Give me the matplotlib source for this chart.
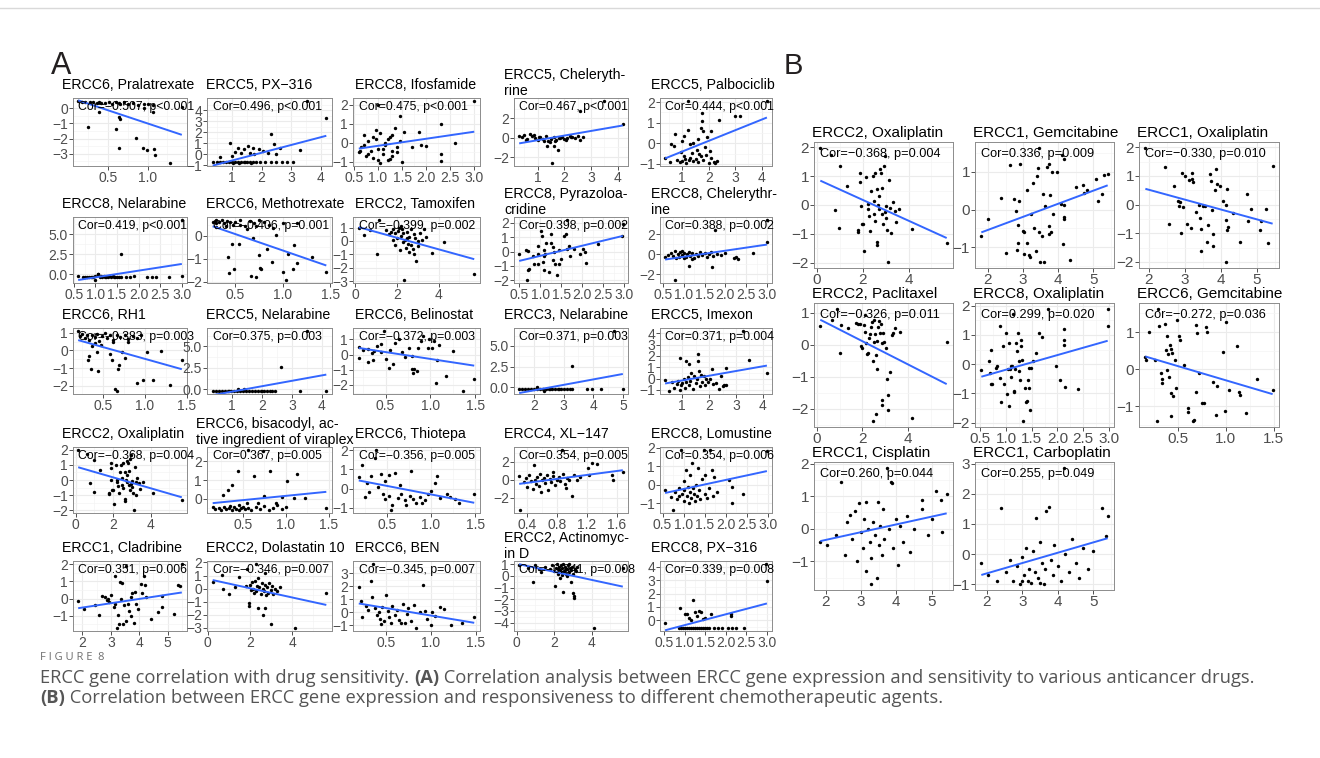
import matplotlib
matplotlib.use('Agg')

import matplotlib.pyplot as plt
import numpy as np
from matplotlib.lines import Line2D

plt.rcParams['font.family'] = ['Liberation Sans', 'DejaVu Sans']
plt.rcParams['axes.unicode_minus'] = True

# ---------------- panel A: titles, stats, ticks ----------------
a_titles = [
    "ERCC6, Pralatrexate", "ERCC5, PX\u2212316", "ERCC8, Ifosfamide", "ERCC5, Cheleryth-\nrine", "ERCC5, Palbociclib",
    "ERCC8, Nelarabine", "ERCC6, Methotrexate", "ERCC2, Tamoxifen", "ERCC8, Pyrazoloa-\ncridine", "ERCC8, Chelerythr-\nine",
    "ERCC6, RH1", "ERCC5, Nelarabine", "ERCC6, Belinostat", "ERCC3, Nelarabine", "ERCC5, Imexon",
    "ERCC2, Oxaliplatin", "ERCC6, bisacodyl, ac-\ntive ingredient of viraplex", "ERCC6, Thiotepa", "ERCC4, XL\u2212147", "ERCC8, Lomustine",
    "ERCC1, Cladribine", "ERCC2, Dolastatin 10", "ERCC6, BEN", "ERCC2, Actinomyc-\nin D", "ERCC8, PX\u2212316",
]
a_stats = [
    "Cor=\u22120.507, p<0.001", "Cor=0.496, p<0.001", "Cor=0.475, p<0.001", "Cor=0.467, p<0.001", "Cor=0.444, p<0.001",
    "Cor=0.419, p<0.001", "Cor=\u22120.406, p=0.001", "Cor=\u22120.399, p=0.002", "Cor=0.398, p=0.002", "Cor=0.388, p=0.002",
    "Cor=\u22120.383, p=0.003", "Cor=0.375, p=0.003", "Cor=\u22120.372, p=0.003", "Cor=0.371, p=0.003", "Cor=0.371, p=0.004",
    "Cor=\u22120.368, p=0.004", "Cor=0.367, p=0.005", "Cor=\u22120.356, p=0.005", "Cor=0.354, p=0.005", "Cor=0.354, p=0.006",
    "Cor=0.351, p=0.006", "Cor=\u22120.346, p=0.007", "Cor=\u22120.345, p=0.007", "Cor=\u22120.341, p=0.008", "Cor=0.339, p=0.008",
]
half = [0.5, 1.0, 1.5]
halves3 = [0.5, 1.0, 1.5, 2.0, 2.5, 3.0]
a_xticks = [
    half, [1, 2, 3, 4], halves3, [1, 2, 3, 4], [1, 2, 3, 4],
    halves3, half, [0, 2, 4], halves3, halves3,
    half, [1, 2, 3, 4], half, [2, 3, 4, 5], [1, 2, 3, 4],
    [0, 2, 4], half, half, [0.4, 0.8, 1.2, 1.6], halves3,
    [2, 3, 4, 5], [0, 2, 4], half, [0, 2, 4], halves3,
]
a_yticks = [
    [-3, -2, -1, 0], [-1, 0, 1, 2, 3, 4], [-1, 0, 1, 2], [-2, 0, 2], [-1, 0, 1, 2],
    [0.0, 2.5, 5.0], [-2, -1, 0], [-3, -2, -1, 0, 1], [-2, -1, 0, 1, 2], [-2, 0, 2],
    [-2, -1, 0, 1], [0.0, 2.5, 5.0], [-2, -1, 0, 1], [0.0, 2.5, 5.0], [-1, 0, 1, 2, 3, 4],
    [-2, -1, 0, 1, 2], [0, 1, 2], [-1, 0, 1, 2], [-2, 0, 2], [-1, 0, 1, 2],
    [-1, 0, 1, 2], [-3, -2, -1, 0, 1, 2], [-1, 0, 1, 2, 3], [-4, -3, -2, -1, 0, 1], [0, 1, 2, 3, 4],
]

# ---------------- panel A: points (expression, drug sensitivity) ----------------
a01 = [(0.13, 0.47), (0.18, 0.40), (0.22, 0.42), (0.28, 0.38), (0.31, 0.44), (0.36, 0.35), (0.39, 0.40), (0.42, 0.32),
       (0.47, 0.36), (0.52, 0.41), (0.55, 0.30), (0.60, 0.38), (0.64, 0.33), (0.66, 0.28), (0.70, 0.40), (0.76, 0.30),
       (0.82, 0.35), (0.88, 0.22), (0.95, 0.30), (1.00, 0.25), (1.07, 0.20), (0.39, -0.25), (0.25, -1.25), (0.60, -1.40),
       (0.64, -0.60), (0.65, -0.68), (0.64, -2.60), (0.85, -1.95), (0.94, -2.60), (0.99, -2.75), (1.08, -2.70),
       (1.09, -3.10), (1.28, -3.60), (1.07, -0.27), (0.95, 0.00), (1.43, 0.10)]
a02 = [(0.35, -0.75), (0.50, -0.75), (0.60, -0.75), (0.70, -0.75), (0.80, -0.75), (0.90, -0.75), (1.00, -0.75),
       (1.10, -0.75), (1.20, -0.75), (1.30, -0.75), (1.40, -0.75), (1.50, -0.75), (1.60, -0.75), (1.70, -0.75),
       (1.80, -0.75), (1.95, -0.75), (2.10, -0.75), (2.30, -0.75), (2.50, -0.75), (2.70, -0.75), (1.05, -0.80),
       (1.25, -0.80), (1.45, -0.75), (1.65, -0.80), (0.92, 1.00), (1.11, 0.20), (1.30, 0.10), (1.53, 0.75),
       (1.70, 0.60), (1.90, 0.45), (2.05, 0.30), (2.33, 1.80), (2.40, 0.90), (2.63, 0.60), (3.30, 0.40), (3.52, 4.85),
       (4.18, 3.35), (1.40, 0.45), (1.75, 0.00), (2.20, 0.10), (0.60, -0.30), (1.00, -0.20), (1.20, 0.60),
       (1.60, 0.10), (2.50, 0.00), (2.85, -0.75), (3.05, -0.75)]
a03 = [(0.60, -0.50), (0.65, -0.20), (0.70, 0.40), (0.75, -0.70), (0.80, 0.10), (0.85, -0.40), (0.90, -0.80),
       (0.95, 0.20), (1.00, -0.30), (1.05, 0.50), (1.10, -0.60), (1.15, 0.00), (1.20, -0.90), (1.25, 0.30),
       (1.30, -0.40), (1.35, 0.80), (1.40, -0.20), (1.45, 0.10), (1.50, -1.00), (1.55, 0.60), (0.70, -0.10),
       (0.80, -0.60), (0.90, 0.30), (1.00, -0.90), (1.10, -0.30), (1.20, 0.20), (1.30, -0.70), (1.40, -0.50),
       (0.95, 0.70), (1.15, -0.10), (1.30, 0.40), (1.70, -0.20), (1.90, -0.10), (2.00, -0.15), (2.30, 1.00),
       (2.30, -0.60), (2.30, -0.95), (2.60, 0.00), (3.00, 2.20), (1.00, 2.00), (1.45, 1.40), (1.85, 0.60),
       (0.62, -0.45), (1.05, -1.05), (1.25, -0.85)]
a04 = [(0.30, 0.20), (0.40, 0.10), (0.50, 0.30), (0.60, -0.10), (0.70, 0.40), (0.80, 0.20), (0.90, 0.00),
       (1.00, -0.20), (1.10, 0.10), (1.20, -0.10), (1.30, 0.20), (1.40, -0.30), (1.50, -0.10), (1.60, 0.10),
       (1.70, -0.20), (1.80, 0.00), (1.90, 0.10), (2.00, -0.10), (2.10, 0.00), (2.20, 0.20), (2.30, 0.10),
       (2.40, 0.00), (2.50, 0.20), (2.60, -0.20), (2.70, 0.10), (0.55, -0.20), (0.85, 0.25), (1.05, 0.05),
       (1.25, -0.30), (1.45, -0.45), (1.65, -0.30), (1.85, 0.00), (2.05, -0.20), (2.25, 0.05), (1.35, -0.90),
       (1.60, -0.80), (1.75, -1.30), (1.55, -2.60), (2.60, 2.80), (3.50, 3.80), (4.20, 1.40)]
a05 = [(0.35, -0.70), (0.53, -0.89), (0.59, -0.03), (0.72, 0.47), (1.05, 0.36), (1.20, 0.65), (1.42, 0.00),
       (1.73, 1.48), (1.75, 1.10), (1.78, 0.60), (1.72, 0.75), (1.95, 0.30), (2.10, 0.60), (2.38, 1.12),
       (2.98, 1.34), (3.20, 1.35), (4.20, 2.05), (1.20, 2.05), (0.80, -0.80), (0.90, -0.90), (1.00, -0.85),
       (1.10, -0.75), (1.15, -0.95), (1.25, -0.80), (1.30, -0.70), (1.40, -0.85), (1.50, -0.75), (1.60, -0.90),
       (1.70, -0.60), (1.80, -0.80), (1.90, -0.55), (2.00, -0.95), (2.10, -0.70), (2.20, -0.90), (2.30, -0.85),
       (0.95, -0.40), (1.05, -0.60), (1.35, -0.45), (1.55, -0.30), (1.65, -0.50), (1.85, -0.20), (2.05, -0.35),
       (2.25, -0.95), (0.70, -0.15), (1.00, 0.10), (1.30, -0.05), (1.60, 0.20)]
a06 = [(0.60, -0.15), (0.75, -0.30), (0.80, -0.30), (0.85, -0.30), (0.90, -0.30), (0.95, -0.30), (1.00, -0.25),
       (1.05, 0.10), (1.10, -0.30), (1.15, -0.30), (1.20, -0.20), (1.25, -0.30), (1.30, -0.30), (1.35, -0.30),
       (1.40, -0.20), (1.45, -0.30), (1.50, -0.30), (1.55, -0.30), (1.60, -0.30), (1.70, -0.30), (1.80, -0.30),
       (1.90, -0.20), (2.20, -0.30), (2.30, -0.30), (2.40, -0.30), (2.70, -0.30), (3.00, -0.25), (1.00, -0.70),
       (1.05, 0.00), (1.60, 2.60), (3.00, 6.80), (0.92, -0.30), (1.22, -0.30), (1.42, -0.30), (0.70, -0.30),
       (1.12, -0.20), (1.32, -0.25)]
a07 = [(0.26, 0.60), (0.28, 0.65), (0.29, 0.55), (0.30, 0.68), (0.33, 0.60), (0.36, 0.70), (0.38, 0.55),
       (0.41, 0.65), (0.44, 0.60), (0.47, 0.50), (0.50, 0.60), (0.55, 0.70), (0.60, 0.45), (0.65, 0.65),
       (0.70, 0.55), (0.75, 0.70), (0.80, 0.60), (0.85, 0.50), (0.90, 0.35), (1.00, 0.55), (1.15, 0.55),
       (0.30, 0.40), (0.40, 0.45), (0.55, 0.50), (0.62, 0.30), (0.72, 0.45), (0.42, -0.91), (0.43, -1.63),
       (0.46, -0.37), (0.49, -1.45), (0.54, -0.37), (0.69, -0.11), (0.72, -1.80), (0.75, -0.84), (0.76, -1.40),
       (0.77, -1.45), (0.83, -0.59), (0.89, -1.16), (0.93, 0.03), (1.00, -1.56), (1.03, -1.93), (1.06, -0.77),
       (1.11, -1.45), (1.12, -0.40), (1.15, -1.20), (1.31, -0.91), (1.46, -1.56), (0.66, -1.75)]
a08 = [(0.17, 0.94), (0.43, 0.44), (0.69, 0.80), (1.04, -0.99), (1.13, 1.56), (1.50, 0.80), (1.60, 0.50),
       (1.70, 0.70), (1.80, 0.90), (1.82, 0.07), (1.90, 0.60), (2.00, 0.20), (2.05, 0.75), (2.10, 1.00),
       (2.17, -0.67), (2.20, 0.40), (2.25, 0.90), (2.30, 0.60), (2.34, -2.90), (2.40, 0.10), (2.45, -0.50),
       (2.50, 0.70), (2.55, -0.20), (2.60, 0.30), (2.69, -0.30), (2.70, 0.90), (2.75, -0.60), (2.80, 0.50),
       (2.85, 0.20), (2.94, -1.46), (3.00, -0.40), (3.10, 0.60), (3.20, 0.10), (3.30, 0.90), (3.40, 0.30),
       (3.67, -0.90), (4.24, -0.05), (5.71, -2.47), (1.90, -0.30), (2.30, -0.10), (2.60, -0.80), (3.00, 0.00),
       (2.20, 1.10), (2.50, 0.20), (2.80, -1.00)]
a09 = [(0.50, -0.14), (0.66, 0.09), (0.70, 0.05), (0.69, -1.98), (0.70, -1.29), (0.74, -1.20), (0.84, -0.30),
       (0.85, -0.87), (0.94, 0.39), (0.96, -0.87), (1.01, 1.42), (1.05, 1.10), (1.07, -0.70), (1.08, -1.29),
       (1.10, 0.10), (1.12, -0.20), (1.21, -1.45), (1.25, 1.23), (1.27, 0.60), (1.30, -0.60), (1.33, -0.05),
       (1.40, -1.60), (1.45, -0.90), (1.58, 1.06), (1.62, 1.20), (1.63, 0.15), (1.64, 2.20), (1.70, -0.30),
       (1.68, 0.40), (1.95, -0.20), (2.02, 0.20), (2.08, 0.00), (2.10, -0.83), (2.39, 0.50), (2.95, 1.07),
       (2.97, 1.95), (1.10, -0.30), (1.30, 0.30), (1.50, -0.50), (1.35, -0.90), (0.95, -0.20), (1.15, 0.60),
       (1.45, 0.10), (1.80, 0.20)]
a10 = [(0.55, -0.30), (0.62, -0.10), (0.70, 0.10), (0.75, -0.20), (0.78, 0.30), (0.82, -0.40), (0.85, 0.00),
       (0.88, -0.30), (0.92, 0.20), (0.95, -0.10), (1.00, 0.10), (1.05, -0.30), (1.08, 0.00), (1.12, 0.20),
       (1.15, -0.20), (1.20, 0.10), (1.25, -0.40), (1.30, 0.00), (1.35, -0.20), (1.40, 0.20), (1.45, -0.10),
       (1.50, 0.10), (1.55, -0.30), (1.60, 0.00), (1.65, 0.20), (1.70, -0.20), (1.80, 0.00), (1.90, -0.10),
       (2.00, 0.10), (2.20, -0.40), (2.25, -0.30), (2.30, -0.50), (0.80, -2.60), (1.13, -1.24), (1.68, -1.34),
       (2.67, 0.10), (3.00, 1.16), (3.00, 3.40), (1.75, 2.40), (1.00, -0.40), (1.20, -0.50), (0.95, 0.35)]
a11 = [(0.20, 1.10), (0.22, 0.80), (0.25, 0.95), (0.28, 0.70), (0.30, 0.90), (0.33, 0.60), (0.36, 0.85),
       (0.40, 0.75), (0.42, 0.95), (0.45, 0.55), (0.48, 0.80), (0.52, 1.00), (0.55, 0.70), (0.58, 0.90),
       (0.62, 0.60), (0.66, 0.85), (0.70, 0.75), (0.76, 0.90), (0.80, 0.65), (0.86, 0.80), (0.90, 0.70),
       (0.95, 0.85), (0.32, -0.55), (0.33, -0.30), (0.35, -1.07), (0.36, 0.25), (0.40, 0.40), (0.42, -0.10),
       (0.44, -1.18), (0.47, 0.30), (0.58, -0.20), (0.60, -0.55), (0.62, 0.45), (0.64, -2.20), (0.66, -2.30),
       (0.68, -1.03), (0.69, -0.85), (0.72, -0.10), (0.76, -0.45), (0.80, 0.50), (0.90, -1.85), (0.97, -1.65),
       (1.02, -0.10), (1.10, -1.67), (1.19, -0.02), (1.30, -1.94), (1.44, -0.55)]
a12 = [(0.35, -0.20), (0.45, -0.20), (0.55, -0.20), (0.65, -0.20), (0.75, -0.20), (0.85, -0.20), (0.95, -0.20),
       (1.05, -0.20), (1.15, -0.20), (1.25, -0.20), (1.35, -0.20), (1.45, -0.20), (1.55, -0.20), (1.65, -0.20),
       (1.75, -0.20), (1.85, -0.20), (1.95, -0.20), (2.05, -0.20), (2.15, -0.20), (2.25, -0.20), (2.35, -0.20),
       (2.45, -0.20), (1.20, 0.05), (1.40, 0.00), (2.62, 2.60), (3.50, 6.80), (3.26, -0.20), (4.15, -0.20),
       (2.00, -0.15), (0.90, -0.15)]
a13 = [(0.20, 0.50), (0.25, 0.30), (0.30, 0.40), (0.35, 0.10), (0.36, -0.33), (0.37, 0.23), (0.40, 0.60),
       (0.45, 0.67), (0.45, 0.20), (0.48, 1.56), (0.50, -0.30), (0.54, -0.89), (0.55, 0.30), (0.60, 0.80),
       (0.65, 1.00), (0.20, -0.20), (0.30, -0.50), (0.72, -0.15), (0.76, 0.45), (0.79, -0.10), (0.79, -0.95),
       (0.82, -0.95), (0.81, -1.22), (0.85, -1.10), (0.86, 0.45), (0.90, 0.89), (0.92, 1.22), (0.97, 0.45),
       (0.99, 1.00), (1.02, 0.44), (1.04, 0.87), (1.07, -0.33), (1.10, 0.64), (1.18, -1.44), (1.06, -1.84),
       (1.36, -2.40), (1.25, 0.27), (1.49, -1.60), (0.68, 0.20), (0.58, -0.60)]
a14 = [(1.50, -0.20), (1.60, -0.20), (1.70, -0.20), (1.80, -0.20), (1.90, -0.20), (2.00, -0.20), (2.10, -0.20),
       (2.20, -0.20), (2.30, -0.20), (2.40, -0.20), (2.50, -0.20), (2.60, -0.20), (2.70, -0.20), (2.80, -0.20),
       (2.90, -0.20), (3.00, -0.20), (3.10, -0.20), (3.20, -0.20), (3.30, -0.20), (2.10, 0.05), (2.35, -0.45),
       (3.30, 2.60), (4.70, 6.80), (3.80, -0.20), (3.95, -0.20), (4.25, -0.20), (5.00, -0.20), (2.55, -0.15),
       (2.85, -0.15)]
a15 = [(0.36, -0.10), (0.52, -1.10), (0.60, -0.30), (0.70, -0.80), (0.80, -0.50), (0.85, -0.20), (0.90, -1.00),
       (0.93, 1.80), (0.95, -0.60), (1.00, -0.40), (1.05, 0.00), (1.10, -0.80), (1.14, 1.57), (1.15, -0.30),
       (1.20, 0.10), (1.25, -0.60), (1.30, -0.20), (1.34, 0.50), (1.40, -0.90), (1.45, 0.20), (1.50, -0.40),
       (1.55, 0.00), (1.58, 1.57), (1.62, 0.67), (1.60, 2.20), (1.65, -0.70), (1.70, 0.30), (1.75, -0.30),
       (1.80, 0.20), (1.85, -0.60), (1.90, 0.00), (1.95, -0.30), (2.05, 0.00), (2.10, 0.80), (2.15, -0.50),
       (2.27, -0.43), (2.35, -0.90), (2.45, 0.20), (2.50, -0.70), (2.55, -0.60), (2.62, 0.97), (2.63, -0.60),
       (3.49, 1.60), (4.15, 0.50), (3.25, 4.20), (1.25, 1.30)]
ercc2_oxaliplatin = [
       (0.14, 1.98), (0.60, 1.74), (1.00, 1.34), (0.78, -0.17), (0.96, -0.78), (1.29, 0.65), (1.78, -0.87),
       (1.78, -0.95), (1.87, 1.10), (1.87, 0.80), (1.90, -0.03), (1.97, -0.66), (2.02, -0.66), (2.07, -1.58),
       (2.16, 0.97), (2.21, 0.02), (2.21, -0.15), (2.26, -0.38), (2.30, -0.89), (2.36, 0.50), (2.44, 0.99),
       (2.47, 0.14), (2.50, -0.30), (2.54, 1.10), (2.54, -0.55), (2.62, -1.28), (2.64, -1.40), (2.62, 0.55),
       (2.67, 0.00), (2.72, -0.15), (2.72, 0.30), (2.73, 1.24), (2.80, 1.10), (2.84, 0.60), (2.84, -0.30),
       (2.90, -0.66), (2.93, 1.36), (2.97, 1.68), (3.00, -0.05), (2.98, -0.25), (3.01, -0.45), (3.08, -0.85),
       (3.12, -1.98), (3.16, 0.88), (3.20, -0.10), (3.23, -0.98), (3.30, 0.10), (3.40, -0.20), (3.45, -0.60),
       (3.59, -0.15), (4.15, -0.83), (5.67, -1.31)]
a17 = [(0.15, -0.45), (0.18, -0.55), (0.22, -0.50), (0.25, -0.60), (0.28, -0.45), (0.31, -0.55), (0.34, -0.50),
       (0.37, -0.60), (0.40, -0.45), (0.42, -0.55), (0.45, -0.60), (0.48, -0.50), (0.50, -0.45), (0.53, -0.55),
       (0.56, -0.50), (0.60, -0.60), (0.65, -0.45), (0.70, -0.55), (0.75, -0.40), (0.80, -0.60), (0.85, -0.50),
       (0.90, -0.35), (0.95, -0.55), (1.00, -0.45), (0.35, -0.40), (0.45, -0.35), (0.27, 0.20), (0.33, 0.45),
       (0.38, 0.71), (0.44, 1.50), (0.56, 2.60), (0.63, 1.19), (0.73, 2.55), (0.75, 0.13), (0.82, 1.50),
       (1.01, 0.95), (1.13, 1.32), (1.22, 0.04), (1.10, 0.04), (1.47, -0.51), (0.88, -0.20), (0.68, -0.20),
       (0.95, 0.10), (0.55, -0.20)]
a18 = [(0.18, 0.60), (0.22, 1.20), (0.27, 0.30), (0.32, 0.65), (0.36, 1.57), (0.37, 2.00), (0.43, 0.74),
       (0.48, 0.40), (0.52, 0.70), (0.59, 0.83), (0.45, -0.30), (0.48, -0.55), (0.52, -0.40), (0.56, -0.83),
       (0.54, -1.11), (0.62, -0.50), (0.66, -0.30), (0.70, -0.60), (0.76, -0.37), (0.80, -0.56), (0.83, -0.74),
       (0.87, -0.46), (0.90, -0.74), (0.93, -0.60), (0.96, -0.30), (1.00, -0.10), (1.05, 0.28), (1.07, 0.65),
       (1.18, -0.28), (1.21, -0.43), (1.27, -0.56), (1.32, -0.74), (1.49, -0.28), (0.77, 0.93), (0.30, -0.20),
       (0.40, 0.10), (0.72, -0.85), (1.10, -0.50), (0.65, 0.20), (0.25, -0.45)]
a19 = [(0.29, 0.42), (0.30, -3.39), (0.35, -0.30), (0.38, 0.20), (0.40, -0.80), (0.42, 0.50), (0.45, -0.20),
       (0.47, -1.00), (0.49, 1.63), (0.50, 0.00), (0.51, -0.50), (0.53, 0.30), (0.55, -0.70), (0.57, 0.60),
       (0.60, -0.10), (0.62, 0.20), (0.64, -0.40), (0.66, 0.50), (0.68, -1.20), (0.70, 0.10), (0.72, -0.30),
       (0.75, 0.40), (0.77, -0.60), (0.80, 0.00), (0.82, 0.30), (0.84, -0.20), (0.86, 3.30), (0.88, 0.60),
       (0.90, -0.50), (0.93, 0.20), (0.96, -0.10), (1.00, -1.80), (1.02, 0.50), (1.06, 0.00), (1.10, 0.30),
       (1.21, 1.34), (1.27, 1.83), (1.33, 1.75), (1.22, 0.50), (1.54, 0.50), (1.55, 0.00), (1.68, 0.80),
       (0.58, -1.40), (0.74, 0.80), (0.92, -0.90)]
a20 = [(0.56, -0.27), (0.70, -0.68), (0.74, -1.37), (0.80, -0.40), (0.85, -0.80), (0.88, -0.20), (0.90, -0.60),
       (0.94, 1.88), (0.96, -0.50), (1.00, -0.30), (1.02, -0.90), (1.05, 0.82), (1.08, -0.60), (1.10, -0.10),
       (1.12, -1.00), (1.15, -0.40), (1.18, -0.70), (1.21, 1.19), (1.22, -0.20), (1.25, -0.50), (1.28, -0.90),
       (1.30, 0.00), (1.33, -0.60), (1.36, -0.30), (1.40, -0.80), (1.43, 0.30), (1.48, 1.88), (1.50, -0.50),
       (1.52, 0.50), (1.55, -0.70), (1.60, -0.20), (1.63, 1.88), (1.68, 0.82), (1.70, -0.60), (1.72, 0.40),
       (1.80, -0.40), (2.07, 0.27), (2.15, -0.10), (2.14, -1.00), (2.41, -0.50), (2.98, 1.83), (1.00, 0.20),
       (1.15, 0.50), (1.35, 0.90)]
a21 = [(1.85, -0.15), (2.06, -0.60), (2.43, -0.40), (2.58, -0.98), (2.70, 0.16), (2.80, 0.10), (2.85, -0.10),
       (2.90, 0.00), (2.95, -0.20), (3.00, 0.20), (3.10, -0.52), (3.13, 1.30), (3.20, -1.70), (3.25, -0.95),
       (3.30, -1.50), (3.33, 0.93), (3.40, 0.90), (3.42, -1.49), (3.45, -0.40), (3.52, 1.88), (3.55, -1.30),
       (3.60, -0.30), (3.65, -0.75), (3.72, 0.10), (3.75, 0.30), (3.80, -1.40), (3.85, 0.40), (3.90, -0.30),
       (3.95, -0.60), (4.06, 0.83), (4.10, 0.30), (4.18, 1.30), (4.20, 0.80), (4.25, 0.10), (4.41, -1.18),
       (4.65, -0.80), (4.80, 0.16), (4.80, -0.52), (5.23, -0.91), (5.35, 0.78), (5.42, 0.75), (5.50, 1.99),
       (3.15, -0.30), (3.70, -1.00), (3.35, 0.00)]
a22 = [(0.23, 0.53), (0.66, 1.07), (0.71, 0.00), (1.00, -0.45), (1.31, 0.13), (1.50, 0.90), (1.87, 1.47),
       (1.95, -1.07), (1.97, -1.30), (2.00, 0.30), (2.05, -0.10), (2.10, 0.50), (2.15, 0.00), (2.20, -0.30),
       (2.25, 0.60), (2.30, 1.87), (2.30, -0.20), (2.35, 0.20), (2.40, -1.50), (2.45, 0.10), (2.50, -0.40),
       (2.55, 0.40), (2.61, -2.00), (2.60, 0.00), (2.65, -0.20), (2.70, -1.47), (2.70, 0.30), (2.75, -0.50),
       (2.80, 0.10), (2.85, -0.30), (2.90, 0.40), (2.99, -2.67), (3.00, -0.10), (3.05, 0.20), (3.10, -0.40),
       (3.20, 0.00), (3.30, -0.20), (3.40, 0.10), (4.15, -3.00), (5.62, -0.35), (2.40, 0.80), (2.70, 1.20),
       (1.80, 0.20)]
a23 = [(0.20, 1.94), (0.23, 0.88), (0.24, -0.37), (0.28, 0.50), (0.30, 0.20), (0.34, 2.42), (0.36, 3.72),
       (0.35, 1.20), (0.38, 0.30), (0.40, -0.20), (0.42, 0.00), (0.44, -0.50), (0.46, 0.40), (0.48, -0.70),
       (0.50, 1.30), (0.52, 0.10), (0.54, -0.40), (0.56, -0.80), (0.57, 0.47), (0.60, -0.20), (0.62, 0.20),
       (0.65, -0.60), (0.69, 0.61), (0.71, -0.80), (0.73, -0.10), (0.75, 0.30), (0.78, -0.70), (0.81, 0.60),
       (0.83, -1.20), (0.88, 0.00), (0.91, 2.08), (0.93, 0.10), (0.96, -0.50), (1.00, -1.00), (1.01, 0.00),
       (1.05, -0.30), (1.10, 0.40), (1.14, 0.27), (1.22, -1.00), (1.34, -0.83), (1.48, -0.37), (0.45, -0.90),
       (0.67, -0.85)]
a24 = [(0.14, 0.90), (0.60, 0.70), (0.96, 0.91), (0.90, -0.50), (1.30, 0.30), (1.50, 0.80), (1.80, 0.60),
       (1.90, 0.90), (2.00, 0.40), (2.06, -0.88), (2.10, 0.70), (2.15, 1.00), (2.20, 0.20), (2.25, 0.80),
       (2.30, 0.50), (2.35, 0.90), (2.40, 0.30), (2.45, 0.70), (2.50, -1.37), (2.50, 1.00), (2.55, 0.40),
       (2.60, 0.80), (2.65, 0.20), (2.70, 0.60), (2.75, 0.90), (2.80, 0.30), (2.85, 0.70), (2.90, -0.50),
       (2.90, 0.50), (2.95, 0.80), (3.00, 0.20), (3.03, -1.46), (3.05, -1.70), (3.06, -1.90), (3.10, 0.60),
       (3.15, 0.40), (3.20, 0.80), (4.15, -4.44), (2.20, 0.60), (2.40, 0.10), (2.60, 0.50), (2.80, 1.00),
       (2.30, -0.20), (2.70, 0.00), (1.20, 0.60), (5.67, 0.70)]
a25 = [(0.85, -0.57), (0.90, -0.57), (0.95, -0.57), (1.00, -0.57), (1.05, -0.57), (1.10, -0.57), (1.15, -0.57),
       (1.20, -0.57), (1.25, -0.57), (1.30, -0.57), (1.35, -0.57), (1.40, -0.57), (1.45, -0.57), (1.50, -0.57),
       (1.55, -0.57), (1.60, -0.57), (1.70, -0.57), (1.80, -0.57), (1.90, -0.57), (2.05, -0.57), (2.15, -0.57),
       (2.25, -0.57), (2.45, -0.57), (0.52, -0.18), (0.89, 0.94), (1.00, 0.50), (1.05, 0.45), (1.10, 0.20),
       (1.20, 1.51), (1.25, 0.60), (1.30, 0.30), (1.35, 0.70), (1.40, 0.60), (1.45, 0.10), (1.64, 0.47),
       (2.13, 0.47), (2.13, 0.30), (2.98, 4.21), (3.00, 2.96), (1.15, 0.00), (1.50, 0.20)]

a_points = [a01, a02, a03, a04, a05, a06, a07, a08, a09, a10, a11, a12, a13, a14, a15,
            ercc2_oxaliplatin, a17, a18, a19, a20, a21, a22, a23, a24, a25]

# ---------------- panel B ----------------
b_titles = ["ERCC2, Oxaliplatin", "ERCC1, Gemcitabine", "ERCC1, Oxaliplatin", "ERCC2, Paclitaxel",
            "ERCC8, Oxaliplatin", "ERCC6, Gemcitabine", "ERCC1, Cisplatin", "ERCC1, Carboplatin"]
b_stats = ["Cor=\u22120.368, p=0.004", "Cor=0.336, p=0.009", "Cor=\u22120.330, p=0.010", "Cor=\u22120.326, p=0.011",
           "Cor=0.299, p=0.020", "Cor=\u22120.272, p=0.036", "Cor=0.260, p=0.044", "Cor=0.255, p=0.049"]
b_xticks = [[0, 2, 4], [2, 3, 4, 5], [2, 3, 4, 5], [0, 2, 4], halves3, half, [2, 3, 4, 5], [2, 3, 4, 5]]
b_yticks = [[-2, -1, 0, 1, 2], [-1, 0, 1], [-2, -1, 0, 1, 2], [-2, -1, 0, 1],
            [-2, -1, 0, 1, 2], [-1, 0, 1], [-1, 0, 1, 2], [-1, 0, 1, 2, 3]]

b02 = [(1.81, -0.70), (2.00, -0.26), (2.37, 0.31), (2.52, -1.16), (2.64, 1.17), (2.75, 0.29), (2.80, -0.03),
       (2.82, -1.08), (2.86, -0.90), (2.86, -0.40), (2.89, 0.22), (2.91, 1.20), (3.01, -0.57), (3.04, -0.59),
       (3.03, -1.17), (3.10, 0.53), (3.12, -0.90), (3.17, -1.21), (3.19, -1.25), (3.22, -0.11), (3.27, 0.70),
       (3.31, -0.50), (3.36, -1.10), (3.39, 0.88), (3.43, 1.11), (3.44, -0.60), (3.45, 1.64), (3.48, -1.40),
       (3.53, -0.70), (3.58, 0.41), (3.60, -1.40), (3.63, 0.10), (3.69, 1.14), (3.74, -0.66), (3.75, -0.44),
       (3.74, 1.20), (3.78, 0.38), (3.80, -0.60), (3.83, 0.99), (3.85, -0.12), (3.97, 0.99), (4.07, 0.15),
       (4.11, 1.45), (4.14, -0.92), (4.16, 1.33), (4.16, -0.20), (4.17, 0.12), (4.17, -0.26), (4.33, -1.34),
       (4.52, 0.59), (4.72, 0.66), (4.74, 0.44), (4.83, 0.52), (5.08, 0.82), (5.14, 0.22), (5.24, 0.41),
       (5.30, 0.92), (5.41, 0.94)]
b03 = [(1.91, 1.98), (2.44, 1.32), (2.57, -0.69), (2.69, 0.63), (2.81, 0.11), (2.84, -0.06), (2.86, 0.08),
       (2.90, -0.98), (2.93, 1.09), (2.96, -0.10), (3.02, 0.98), (3.06, -0.69), (3.13, 0.86), (3.18, -0.81),
       (3.20, 1.09), (3.21, 0.90), (3.24, 0.80), (3.32, -0.25), (3.38, 0.00), (3.43, -0.46), (3.46, -1.61),
       (3.46, -0.85), (3.50, -0.06), (3.56, -0.05), (3.61, -1.32), (3.64, -0.70), (3.69, 1.07), (3.73, 0.83),
       (3.75, -0.20), (3.78, -1.01), (3.78, -1.44), (3.83, 0.52), (3.85, 1.23), (3.88, 0.70), (3.98, 0.63),
       (4.07, 0.11), (4.13, -0.03), (4.15, -0.53), (4.17, -0.90), (4.17, 0.53), (4.15, -2.01), (4.19, -0.79),
       (4.32, -0.31), (4.52, -1.32), (4.72, 0.37), (4.75, -0.58), (4.84, -0.17), (5.07, -0.89), (5.10, -0.58),
       (5.26, -0.17), (5.30, -1.35), (5.43, 1.34)]
b04 = [(0.16, 0.59), (0.68, 0.79), (0.89, 1.13), (1.08, 0.62), (1.03, -0.24), (1.36, 0.51), (1.74, 0.69),
       (1.80, 0.65), (1.88, 0.66), (1.96, -0.05), (2.00, -0.10), (2.07, 0.62), (2.10, 0.92), (2.12, 0.39),
       (2.17, 0.07), (2.21, -0.28), (2.25, -0.25), (2.31, 0.20), (2.35, 0.35), (2.38, 0.55), (2.40, 0.71),
       (2.45, -0.49), (2.45, -2.39), (2.50, 0.79), (2.52, 0.10), (2.55, 0.34), (2.60, -0.31), (2.60, -2.15),
       (2.64, -0.77), (2.66, 0.12), (2.68, 0.55), (2.72, 0.75), (2.78, 0.36), (2.80, 0.66), (2.84, 0.07),
       (2.85, -1.72), (2.88, -1.88), (2.92, 0.36), (2.95, 0.10), (3.02, -0.10), (3.09, -1.06), (3.12, -1.57),
       (3.12, -2.05), (3.23, -0.85), (3.30, 0.31), (3.35, 0.36), (3.45, 0.51), (3.63, 0.41), (4.18, -2.29),
       (5.69, 0.10)]
b05 = [(0.52, -0.20), (0.67, 0.09), (0.69, -0.30), (0.70, 0.47), (0.70, -0.67), (0.72, -0.67), (0.80, -0.12),
       (0.83, -0.06), (0.88, 1.32), (0.89, -0.47), (0.91, -1.31), (0.95, 0.61), (0.97, -0.67), (1.01, 1.06),
       (1.02, -1.01), (1.03, -0.17), (1.05, 0.72), (1.05, -1.43), (1.07, -0.17), (1.09, -0.06), (1.10, -0.45),
       (1.12, -0.06), (1.14, 1.73), (1.15, -0.92), (1.16, -0.95), (1.18, -0.17), (1.20, 0.72), (1.22, 0.45),
       (1.23, 1.06), (1.25, 0.10), (1.26, -0.25), (1.27, -0.55), (1.29, 0.81), (1.29, 0.63), (1.31, 0.13),
       (1.34, -1.96), (1.37, -0.81), (1.39, -1.29), (1.40, -1.25), (1.42, -0.56), (1.44, -0.81), (1.44, -0.14),
       (1.46, -1.57), (1.49, -0.14), (1.52, 0.11), (1.59, 0.39), (1.65, 1.06), (1.70, 0.92), (1.82, 1.90),
       (1.97, -0.06), (2.06, -0.56), (2.12, 1.21), (2.12, 0.67), (2.12, 0.81), (2.14, -0.79), (2.40, -0.84),
       (2.98, 1.88), (2.98, 1.32)]
b06 = [(0.16, 0.32), (0.17, 0.26), (0.20, 1.00), (0.26, 0.25), (0.29, 1.63), (0.28, -1.40), (0.30, 1.15),
       (0.32, -0.09), (0.33, -0.25), (0.33, -0.37), (0.36, 1.23), (0.38, 0.51), (0.39, 0.90), (0.39, -0.02),
       (0.40, 0.40), (0.41, -0.20), (0.42, 0.65), (0.43, 0.55), (0.43, -0.64), (0.43, -1.25), (0.44, 0.45),
       (0.45, -0.73), (0.47, 0.25), (0.48, -0.51), (0.49, 1.33), (0.51, 0.90), (0.52, 0.80), (0.56, 0.11),
       (0.61, -1.04), (0.61, -1.15), (0.66, -1.40), (0.67, -1.35), (0.69, -0.60), (0.69, 1.18), (0.70, 0.97),
       (0.72, -0.11), (0.75, -0.91), (0.77, -0.91), (0.79, 1.14), (0.80, 1.00), (0.87, -0.33), (0.91, -0.46),
       (0.90, -1.22), (0.99, -1.13), (1.00, 1.27), (0.97, 0.47), (1.03, -0.55), (1.12, 0.62), (1.14, -0.62),
       (1.15, -0.68), (1.21, -1.17), (1.33, -0.27), (1.49, -0.55)]
b07 = [(1.85, -0.40), (2.05, -0.50), (2.30, -0.20), (2.43, 1.42), (2.55, -0.80), (2.60, 0.20), (2.68, 0.42),
       (2.75, -0.30), (2.82, 0.56), (2.90, -1.00), (2.95, 0.80), (3.00, -0.10), (3.05, -0.60), (3.10, 0.30),
       (3.14, 0.83), (3.15, -1.30), (3.20, 0.00), (3.25, -0.40), (3.30, -0.90), (3.35, 0.20), (3.40, -0.20),
       (3.45, -1.50), (3.49, 0.83), (3.50, -0.50), (3.55, 0.10), (3.60, -0.80), (3.63, 0.61), (3.65, -0.30),
       (3.75, 1.87), (3.80, 0.00), (3.84, 1.45), (3.88, 1.40), (3.90, -0.60), (4.00, 0.30), (4.05, -1.10),
       (4.10, 0.10), (4.20, -0.40), (4.30, 0.40), (4.40, -0.70), (4.50, 0.00), (4.74, 0.87), (4.74, 0.60),
       (4.90, -0.20), (5.00, 0.30), (5.14, 1.17), (5.27, 0.87), (5.43, 1.06), (5.30, -0.10), (3.30, -1.70)]
b08 = [(1.85, -0.30), (2.05, -0.70), (2.30, -0.90), (2.39, 1.53), (2.55, -0.60), (2.65, -0.20), (2.75, -0.90),
       (2.85, -0.40), (2.95, -1.00), (3.00, -0.10), (3.05, -0.70), (3.10, 0.20), (3.15, -0.90), (3.20, -0.50),
       (3.25, -0.95), (3.30, 0.10), (3.35, -0.60), (3.40, 1.20), (3.45, -0.80), (3.50, 0.40), (3.55, -0.30),
       (3.60, -1.00), (3.65, -0.50), (3.68, 1.44), (3.75, 1.55), (3.80, -0.20), (3.85, -0.70), (3.90, 0.30),
       (4.00, -0.40), (4.10, -0.90), (4.17, 2.86), (4.20, 0.00), (4.30, -0.60), (4.40, 0.50), (4.50, -0.30),
       (4.60, -0.80), (4.70, 0.20), (4.85, -0.50), (5.00, 0.10), (5.24, 1.53), (5.35, 0.60), (5.40, 1.25),
       (3.00, -0.90), (3.50, -0.95)]

b_points = [ercc2_oxaliplatin, b02, b03, b04, b05, b06, b07, b08]

# ---------------- layout (pixels) ----------------
W, H = 1320, 758
fig = plt.figure(figsize=(W / 100, H / 100), dpi=100)

a_rows = [(98, 166), (217, 283), (328, 394), (447, 513), (561, 631)]
a_lefts = [73, 207, 353, 514, 660]
a_rights = [187, 332, 480, 628, 772]
a_title_x = [62, 206, 355, 504, 651]
b_rows = [(142, 268), (303, 427), (462, 590)]
b_lefts = [814, 975, 1139]
b_rights = [953, 1114, 1279]
b_title_x = [812, 973, 1137]


def fx(px):
    return px / W


def fy(py):
    return 1 - py / H


def tick_labels(vals):
    dec = 0 if all(float(v).is_integer() for v in vals) else 1
    return [f"{v:.{dec}f}".replace('-', '\u2212') for v in vals]


def scatter_panel(box, pts, title, stat, xt, yt, title_x, title_size, stat_size, tick_size, title_gap):
    left, top, right, bottom = box
    ax = fig.add_axes([fx(left), fy(bottom), (right - left) / W, (bottom - top) / H])
    x, y = np.array(pts, dtype=float).T

    # major ticks + half-step minor grid, theme_bw style
    ax.set_xticks(xt)
    ax.set_xticklabels(tick_labels(xt))
    ax.set_yticks(yt)
    ax.set_yticklabels(tick_labels(yt))
    sx = xt[1] - xt[0]
    sy = yt[1] - yt[0]
    ax.set_xticks([v - sx / 2 for v in xt] + [xt[-1] + sx / 2], minor=True)
    ax.set_yticks([v - sy / 2 for v in yt] + [yt[-1] + sy / 2], minor=True)
    ax.grid(True, which='major', color='#EBEBEB', lw=0.8)
    ax.grid(True, which='minor', color='#F4F4F4', lw=0.5)
    ax.set_axisbelow(True)

    ax.scatter(x, y, s=6, c='black', lw=0, zorder=3)
    slope, icpt = np.polyfit(x, y, 1)
    xs = np.array([x.min(), x.max()])
    ax.plot(xs, icpt + slope * xs, color='#3366FF', lw=1.4, zorder=4, solid_capstyle='butt')

    xr = x.max() - x.min()
    yr = y.max() - y.min()
    ax.set_xlim(x.min() - 0.05 * xr, x.max() + 0.05 * xr)
    ax.set_ylim(y.min() - 0.05 * yr, y.max() + 0.05 * yr)

    ax.text(x.min(), y.max(), stat, ha='left', va='top', fontsize=stat_size, color='black', zorder=5)

    for s in ax.spines.values():
        s.set_color('#8C8C8C')
        s.set_linewidth(0.7)
    ax.tick_params(which='major', length=2.6, width=0.6, color='#333333', labelcolor='#4D4D4D',
                   labelsize=tick_size, pad=1.0)
    ax.tick_params(which='minor', length=0)

    # wrapped titles sit lower, straddling the single-line position
    gap = 0 if "\n" in title else title_gap
    fig.text(fx(title_x), fy(top - gap), title, ha='left', va='bottom',
             fontsize=title_size, color='black', linespacing=1.2)
    return ax


for i, (pts, title, stat, xt, yt) in enumerate(zip(a_points, a_titles, a_stats, a_xticks, a_yticks)):
    r, c = divmod(i, 5)
    top, bottom = a_rows[r]
    tx = 196 if title.startswith("ERCC6, bisacodyl") else a_title_x[c]
    scatter_panel((a_lefts[c], top, a_rights[c], bottom), pts, title, stat, xt, yt,
                  tx, 10.2, 8.8, 10, 6)

for i, (pts, title, stat, xt, yt) in enumerate(zip(b_points, b_titles, b_stats, b_xticks, b_yticks)):
    r, c = divmod(i, 3)
    top, bottom = b_rows[r]
    scatter_panel((b_lefts[c], top, b_rights[c], bottom), pts, title, stat, xt, yt,
                  b_title_x[c], 11, 9.2, 11, 2)

# panel letters
fig.text(fx(51), fy(74), "A", fontsize=22, color='#231F20', va='baseline', ha='left')
fig.text(fx(784), fy(74), "B", fontsize=21, color='#231F20', va='baseline', ha='left')

# frame rule at the top
fig.add_artist(Line2D([0, 1], [fy(8), fy(8)], transform=fig.transFigure, color='#D9D9D9', lw=1))

# caption
cap_font = ['Open Sans', 'DejaVu Sans']
fig.text(fx(40), fy(657), "F I G U R E  8".replace("  ", "\u2002"), fontsize=8, color='#6E6E6E',
         va='center', ha='left', family=cap_font)

renderer = fig.canvas.get_renderer()


def rich_line(x_px, y_px, parts, size, color):
    x = x_px
    for s, weight in parts:
        t = fig.text(fx(x), fy(y_px), s, fontsize=size, fontweight=weight, color=color,
                     va='center', ha='left', family=cap_font)
        x += t.get_window_extent(renderer).width


rich_line(40, 678, [("ERCC gene correlation with drug sensitivity. ", 'normal'), ("(A)", 'bold'),
                    (" Correlation analysis between ERCC gene expression and sensitivity to various anticancer drugs.",
                     'normal')], 13.2, '#555555')
rich_line(40, 698, [("(B)", 'bold'),
                    (" Correlation between ERCC gene expression and responsiveness to different chemotherapeutic agents.",
                     'normal')], 13.2, '#555555')

fig.savefig('out.png', dpi=100)
